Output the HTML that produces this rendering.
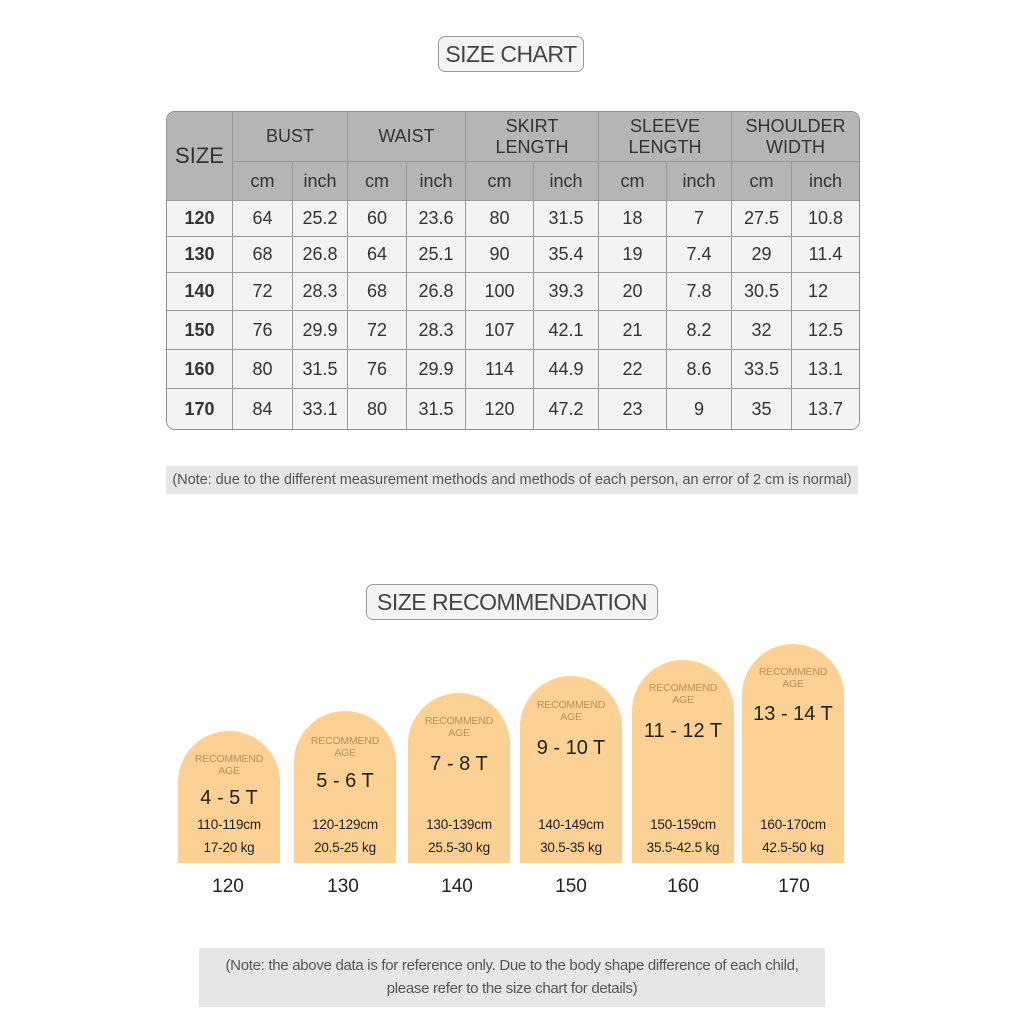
<!DOCTYPE html>
<html><head><meta charset="utf-8"><style>
*{margin:0;padding:0;box-sizing:border-box}
body{width:1024px;height:1024px;background:#fff;position:relative;font-family:"Liberation Sans","DejaVu Sans",sans-serif;color:#333;overflow:hidden}
.tbox{position:absolute;border:1.5px solid #9a9a9a;border-radius:7px;background:#f4f4f4;text-align:center;color:#444;font-size:23px;letter-spacing:-0.5px}
table{position:absolute;left:166px;top:111px;border-collapse:separate;border-spacing:0;border:1.5px solid #8e8e8e;border-radius:9px;overflow:hidden;font-size:18px}
td{border-right:1px solid #999;border-bottom:1px solid #999;text-align:center;padding:0;color:#333}
tr td:last-child{border-right:none}
tr:last-child td{border-bottom:none}
.h td{background:#b5b5b5;color:#333}
.d td{background:#f3f3f3}
.d td:first-child{font-weight:bold}
.note{position:absolute;background:#e6e6e6;color:#555;text-align:center;white-space:nowrap}
.card{position:absolute;width:102px;background:#fdd093;border-radius:51px 51px 0 0;bottom:161px;text-align:center}
.rc{position:absolute;left:0;width:100%;font-size:10.5px;color:#b8905a;line-height:12px;letter-spacing:-0.2px}
.age{position:absolute;left:0;width:100%;font-size:20px;color:#222;line-height:24px}
.m{position:absolute;left:0;width:100%;font-size:13.5px;color:#222;letter-spacing:-0.2px}
.lab{position:absolute;width:102px;text-align:center;font-size:19px;color:#222;top:876px}
</style></head><body>
<div class="tbox" style="left:438px;top:36px;width:146px;height:36px;line-height:34px">SIZE CHART</div>
<table>
<colgroup><col style="width:66px"><col style="width:60px"><col style="width:55px"><col style="width:59px"><col style="width:59px"><col style="width:68px"><col style="width:65px"><col style="width:68px"><col style="width:65px"><col style="width:60px"><col style="width:67px"></colgroup>
<tr class="h" style="height:50px"><td rowspan="2" style="font-size:22px">SIZE</td><td colspan="2">BUST</td><td colspan="2">WAIST</td><td colspan="2" style="line-height:21px">SKIRT<br>LENGTH</td><td colspan="2" style="line-height:21px">SLEEVE<br>LENGTH</td><td colspan="2" style="line-height:21px">SHOULDER<br>WIDTH</td></tr>
<tr class="h" style="height:39px"><td>cm</td><td>inch</td><td>cm</td><td>inch</td><td>cm</td><td>inch</td><td>cm</td><td>inch</td><td>cm</td><td>inch</td></tr>
<tr class="d" style="height:36px"><td>120</td><td>64</td><td>25.2</td><td>60</td><td>23.6</td><td>80</td><td>31.5</td><td>18</td><td>7</td><td>27.5</td><td>10.8</td></tr>
<tr class="d" style="height:36px"><td>130</td><td>68</td><td>26.8</td><td>64</td><td>25.1</td><td>90</td><td>35.4</td><td>19</td><td>7.4</td><td>29</td><td>11.4</td></tr>
<tr class="d" style="height:38px"><td>140</td><td>72</td><td>28.3</td><td>68</td><td>26.8</td><td>100</td><td>39.3</td><td>20</td><td>7.8</td><td>30.5</td><td style="text-align:left;padding-left:16px">12</td></tr>
<tr class="d" style="height:39px"><td>150</td><td>76</td><td>29.9</td><td>72</td><td>28.3</td><td>107</td><td>42.1</td><td>21</td><td>8.2</td><td>32</td><td>12.5</td></tr>
<tr class="d" style="height:39px"><td>160</td><td>80</td><td>31.5</td><td>76</td><td>29.9</td><td>114</td><td>44.9</td><td>22</td><td>8.6</td><td>33.5</td><td>13.1</td></tr>
<tr class="d" style="height:40px"><td>170</td><td>84</td><td>33.1</td><td>80</td><td>31.5</td><td>120</td><td>47.2</td><td>23</td><td>9</td><td>35</td><td>13.7</td></tr>
</table>
<div class="note" style="left:166px;top:466px;width:692px;height:28px;line-height:28px;font-size:14.5px;letter-spacing:-0.03px">(Note: due to the different measurement methods and methods of each person, an error of 2 cm is normal)</div>
<div class="tbox" style="left:366px;top:584px;width:292px;height:36px;line-height:34px">SIZE RECOMMENDATION</div>

<div class="card" style="left:178px;top:731px"><div class="rc" style="top:22px">RECOMMEND<br>AGE</div><div class="age" style="top:55px">4 - 5 T</div><div class="m" style="top:86px">110-119cm</div><div class="m" style="top:109px">17-20 kg</div></div>
<div class="card" style="left:294px;top:711px"><div class="rc" style="top:24px">RECOMMEND<br>AGE</div><div class="age" style="top:58px">5 - 6 T</div><div class="m" style="top:106px">120-129cm</div><div class="m" style="top:129px">20.5-25 kg</div></div>
<div class="card" style="left:408px;top:693px"><div class="rc" style="top:22px">RECOMMEND<br>AGE</div><div class="age" style="top:59px">7 - 8 T</div><div class="m" style="top:124px">130-139cm</div><div class="m" style="top:147px">25.5-30 kg</div></div>
<div class="card" style="left:520px;top:676px"><div class="rc" style="top:23px">RECOMMEND<br>AGE</div><div class="age" style="top:60px">9 - 10 T</div><div class="m" style="top:141px">140-149cm</div><div class="m" style="top:164px">30.5-35 kg</div></div>
<div class="card" style="left:632px;top:660px"><div class="rc" style="top:22px">RECOMMEND<br>AGE</div><div class="age" style="top:59px">11 - 12 T</div><div class="m" style="top:157px">150-159cm</div><div class="m" style="top:180px">35.5-42.5 kg</div></div>
<div class="card" style="left:742px;top:644px"><div class="rc" style="top:22px">RECOMMEND<br>AGE</div><div class="age" style="top:58px">13 - 14 T</div><div class="m" style="top:173px">160-170cm</div><div class="m" style="top:196px">42.5-50 kg</div></div>

<div class="lab" style="left:177px">120</div>
<div class="lab" style="left:292px">130</div>
<div class="lab" style="left:406px">140</div>
<div class="lab" style="left:520px">150</div>
<div class="lab" style="left:632px">160</div>
<div class="lab" style="left:743px">170</div>

<div class="note" style="left:199px;top:948px;width:626px;height:59px;font-size:15px;line-height:23px;padding-top:6px;letter-spacing:-0.3px">(Note: the above data is for reference only. Due to the body shape difference of each child,<br>please refer to the size chart for details)</div>
</body></html>
